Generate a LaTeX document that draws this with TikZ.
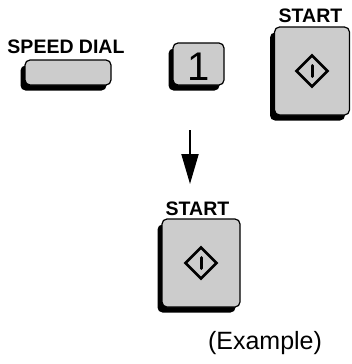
\documentclass[tikz,border=0pt]{standalone}
\usepackage{fontspec}
\setmainfont{Liberation Sans}
\usetikzlibrary{arrows.meta, shadows}
\definecolor{keygray}{RGB}{204,204,204}

\begin{document}
\begin{tikzpicture}[x=1pt, y=-1pt,
  key/.style={draw=black, line width=1.2pt, fill=keygray, rounded corners=5pt,
    inner sep=0pt,
    drop shadow={shadow xshift=-4.5pt, shadow yshift=-5.5pt, fill=black, opacity=1}},
  lbl/.style={font=\bfseries\fontsize{19.5}{19.5}\selectfont, inner sep=0pt},
  icon/.style={line width=2.5pt, line join=miter}]
  \useasboundingbox (0,0) rectangle (351,364);

  % keys
  \node[key, minimum width=86pt, minimum height=25pt] (speed) at (68,72.5) {};
  \node[key, minimum width=51pt, minimum height=42pt] (one) at (198.5,64) {};
  \node[key, minimum width=75pt, minimum height=88pt] (start1) at (312,71) {};
  \node[key, minimum width=78pt, minimum height=88pt] (start2) at (201,263) {};

  % labels
  \node[lbl] (speedlbl) at (66,47) {SPEED DIAL};
  \node[lbl] (startlbl1) at (310.5,15.5) {START};
  \node[lbl] (startlbl2) at (197.5,208.5) {START};
  \node[font=\fontsize{40}{40}\selectfont, inner sep=0pt] (digit) at (198.2,66.5) {1};

  % start symbol
  \foreach \n in {start1, start2} {
    \draw[icon, shift={(\n.center)}] (0,-15.5) -- (15.5,0) -- (0,15.5) -- (-15.5,0) -- cycle;
    \draw[line width=3pt, line cap=round, shift={(\n.center)}] (0,-5.5) -- (0,5.5);
  }

  % arrow
  \coordinate (arrtop) at (190,130);
  \coordinate (arrtip) at (190,184);
  \draw[-{Triangle[length=30pt, width=17pt]}, line width=2pt] (arrtop) -- (arrtip);

  \node[font=\fontsize{25}{25}\selectfont, inner sep=0pt] (note) at (265,343) {(Example)};
\end{tikzpicture}
\end{document}
